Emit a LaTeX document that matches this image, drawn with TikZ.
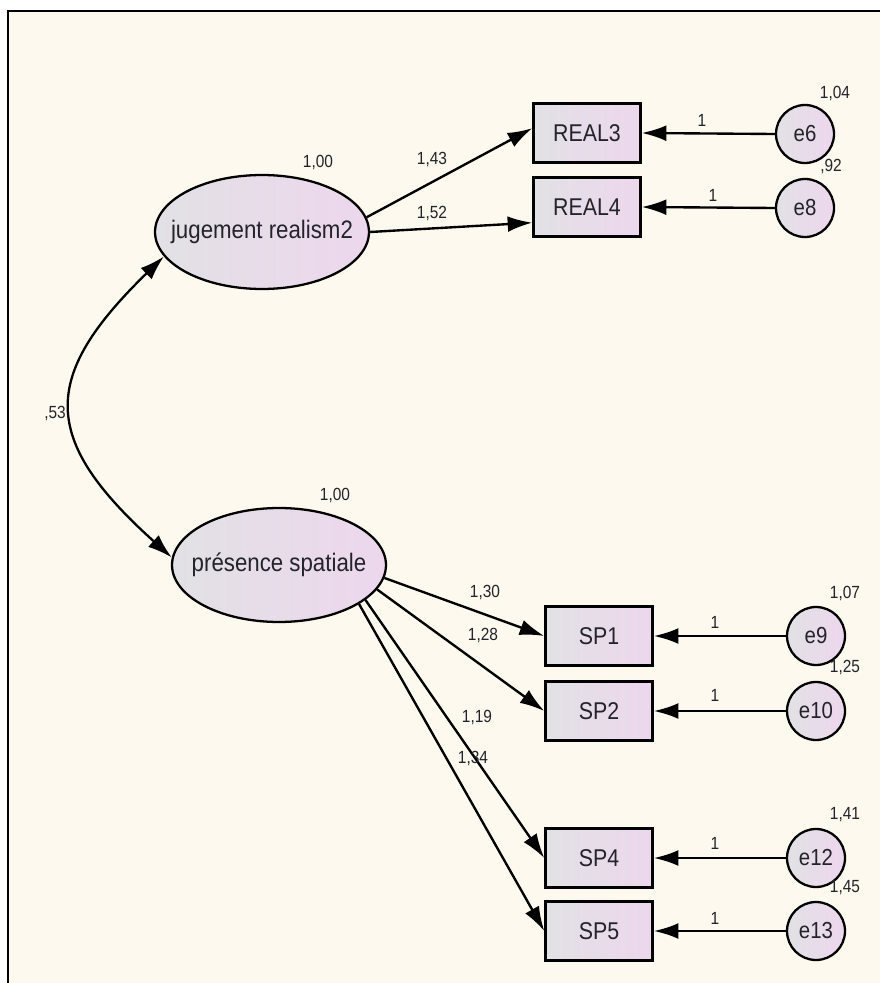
\documentclass[tikz,border=0pt]{standalone}
\usepackage{fontspec}
\setmainfont[FakeStretch=0.88]{Liberation Sans}
\usetikzlibrary{arrows.meta,shapes.geometric}

\definecolor{paper}{RGB}{253,249,238}
\definecolor{fillL}{RGB}{226,225,229}
\definecolor{fillR}{RGB}{237,215,237}
\definecolor{ink}{RGB}{35,35,42}

\begin{document}
\begin{tikzpicture}[x=0.02cm, y=-0.02cm,
  latent/.style={ellipse, draw, line width=1.3pt, left color=fillL, right color=fillR,
    minimum width=4.28cm, minimum height=2.28cm, inner sep=0pt},
  observed/.style={rectangle, draw, line width=1.4pt, left color=fillL, right color=fillR,
    minimum width=2.14cm, minimum height=1.18cm, inner sep=0pt, text=ink,
    font=\fontsize{13.8}{15}\selectfont},
  errorvar/.style={circle, draw, line width=1.3pt, left color=fillL, right color=fillR,
    minimum size=1.16cm, inner sep=0pt, text=ink, font=\fontsize{13.2}{15}\selectfont},
  loading/.style={-{Latex[length=14pt,width=9pt]}, line width=1.35pt},
  covar/.style={{Latex[length=14pt,width=9pt]}-{Latex[length=14pt,width=9pt]}, line width=1.3pt},
  coef/.style={inner sep=0pt, text=ink, font=\fontsize{10}{12}\selectfont},
  bigtext/.style={inner sep=0pt, text=ink, font=\fontsize{14.4}{16}\selectfont}]
  \useasboundingbox (0,0) rectangle (880,983);
  \fill[white] (0,0) rectangle (880,983);
  \fill[paper] (8,11) rectangle (880,983);
  \draw[line width=1.7pt] (8,983) -- (8,11) -- (880,11);

  % Latent variables
  \node[latent] (jr) at (262,232) {};
  \node[bigtext] (jrtext) at (jr) {jugement realism2};
  \node[latent] (ps) at (279,565) {};
  \node[bigtext] (pstext) at (ps) {présence spatiale};

  % Observed variables
  \node[observed] (real3) at (587,133) {REAL3};
  \node[observed] (real4) at (587,207) {REAL4};
  \node[observed] (sp1) at (599,636) {SP1};
  \node[observed] (sp2) at (599,711) {SP2};
  \node[observed] (sp4) at (599,858) {SP4};
  \node[observed] (sp5) at (599,931) {SP5};

  % Error terms
  \node[errorvar] (e6) at (805,134) {e6};
  \node[errorvar] (e8) at (805,208) {e8};
  \node[errorvar] (e9) at (816,636) {e9};
  \node[errorvar] (e10) at (816,711) {e10};
  \node[errorvar] (e12) at (816,858) {e12};
  \node[errorvar] (e13) at (816,931) {e13};

  % Loadings
  \draw[loading] (jr.8) -- (real3.175);
  \draw[loading] (jr.0) -- (real4.196);
  \draw[loading] (ps.-7) -- (sp1.west);
  \draw[loading] (ps.-14) -- (sp2.west);
  \draw[loading] (ps.-22) -- (sp4.west);
  \draw[loading] (ps.-26) -- (sp5.west);

  % Error paths
  \draw[loading] (e6.west) -- (real3.east);
  \draw[loading] (e8.west) -- (real4.east);
  \draw[loading] (e9.west) -- (sp1.east);
  \draw[loading] (e10.west) -- (sp2.east);
  \draw[loading] (e12.west) -- (sp4.east);
  \draw[loading] (e13.west) -- (sp5.east);

  % Covariance
  \draw[covar] (jr.194) .. controls (40,377) and (40,439) .. (ps.176);
  \node[coef] (c53) at (55,413) {,53};

  % Estimates
  \node[coef] (vjr) at (318,162) {1,00};
  \node[coef] (vps) at (335,495) {1,00};
  \node[coef] (l43) at (432,159) {1,43};
  \node[coef] (l52) at (432,213) {1,52};
  \node[coef] (l30) at (485,592) {1,30};
  \node[coef] (l28) at (483,635) {1,28};
  \node[coef] (l19) at (477,717) {1,19};
  \node[coef] (l34) at (473,758) {1,34};

  \node[coef] (v6) at (835,93) {1,04};
  \node[coef] (v8) at (831,166) {,92};
  \node[coef] (v9) at (845,593) {1,07};
  \node[coef] (v10) at (845,667) {1,25};
  \node[coef] (v12) at (845,815) {1,41};
  \node[coef] (v13) at (845,888) {1,45};

  \node[coef] (w6) at (702,120) {1};
  \node[coef] (w8) at (713,195) {1};
  \node[coef] (w9) at (715,622) {1};
  \node[coef] (w10) at (715,695) {1};
  \node[coef] (w12) at (715,843) {1};
  \node[coef] (w13) at (715,918) {1};
\end{tikzpicture}
\end{document}
